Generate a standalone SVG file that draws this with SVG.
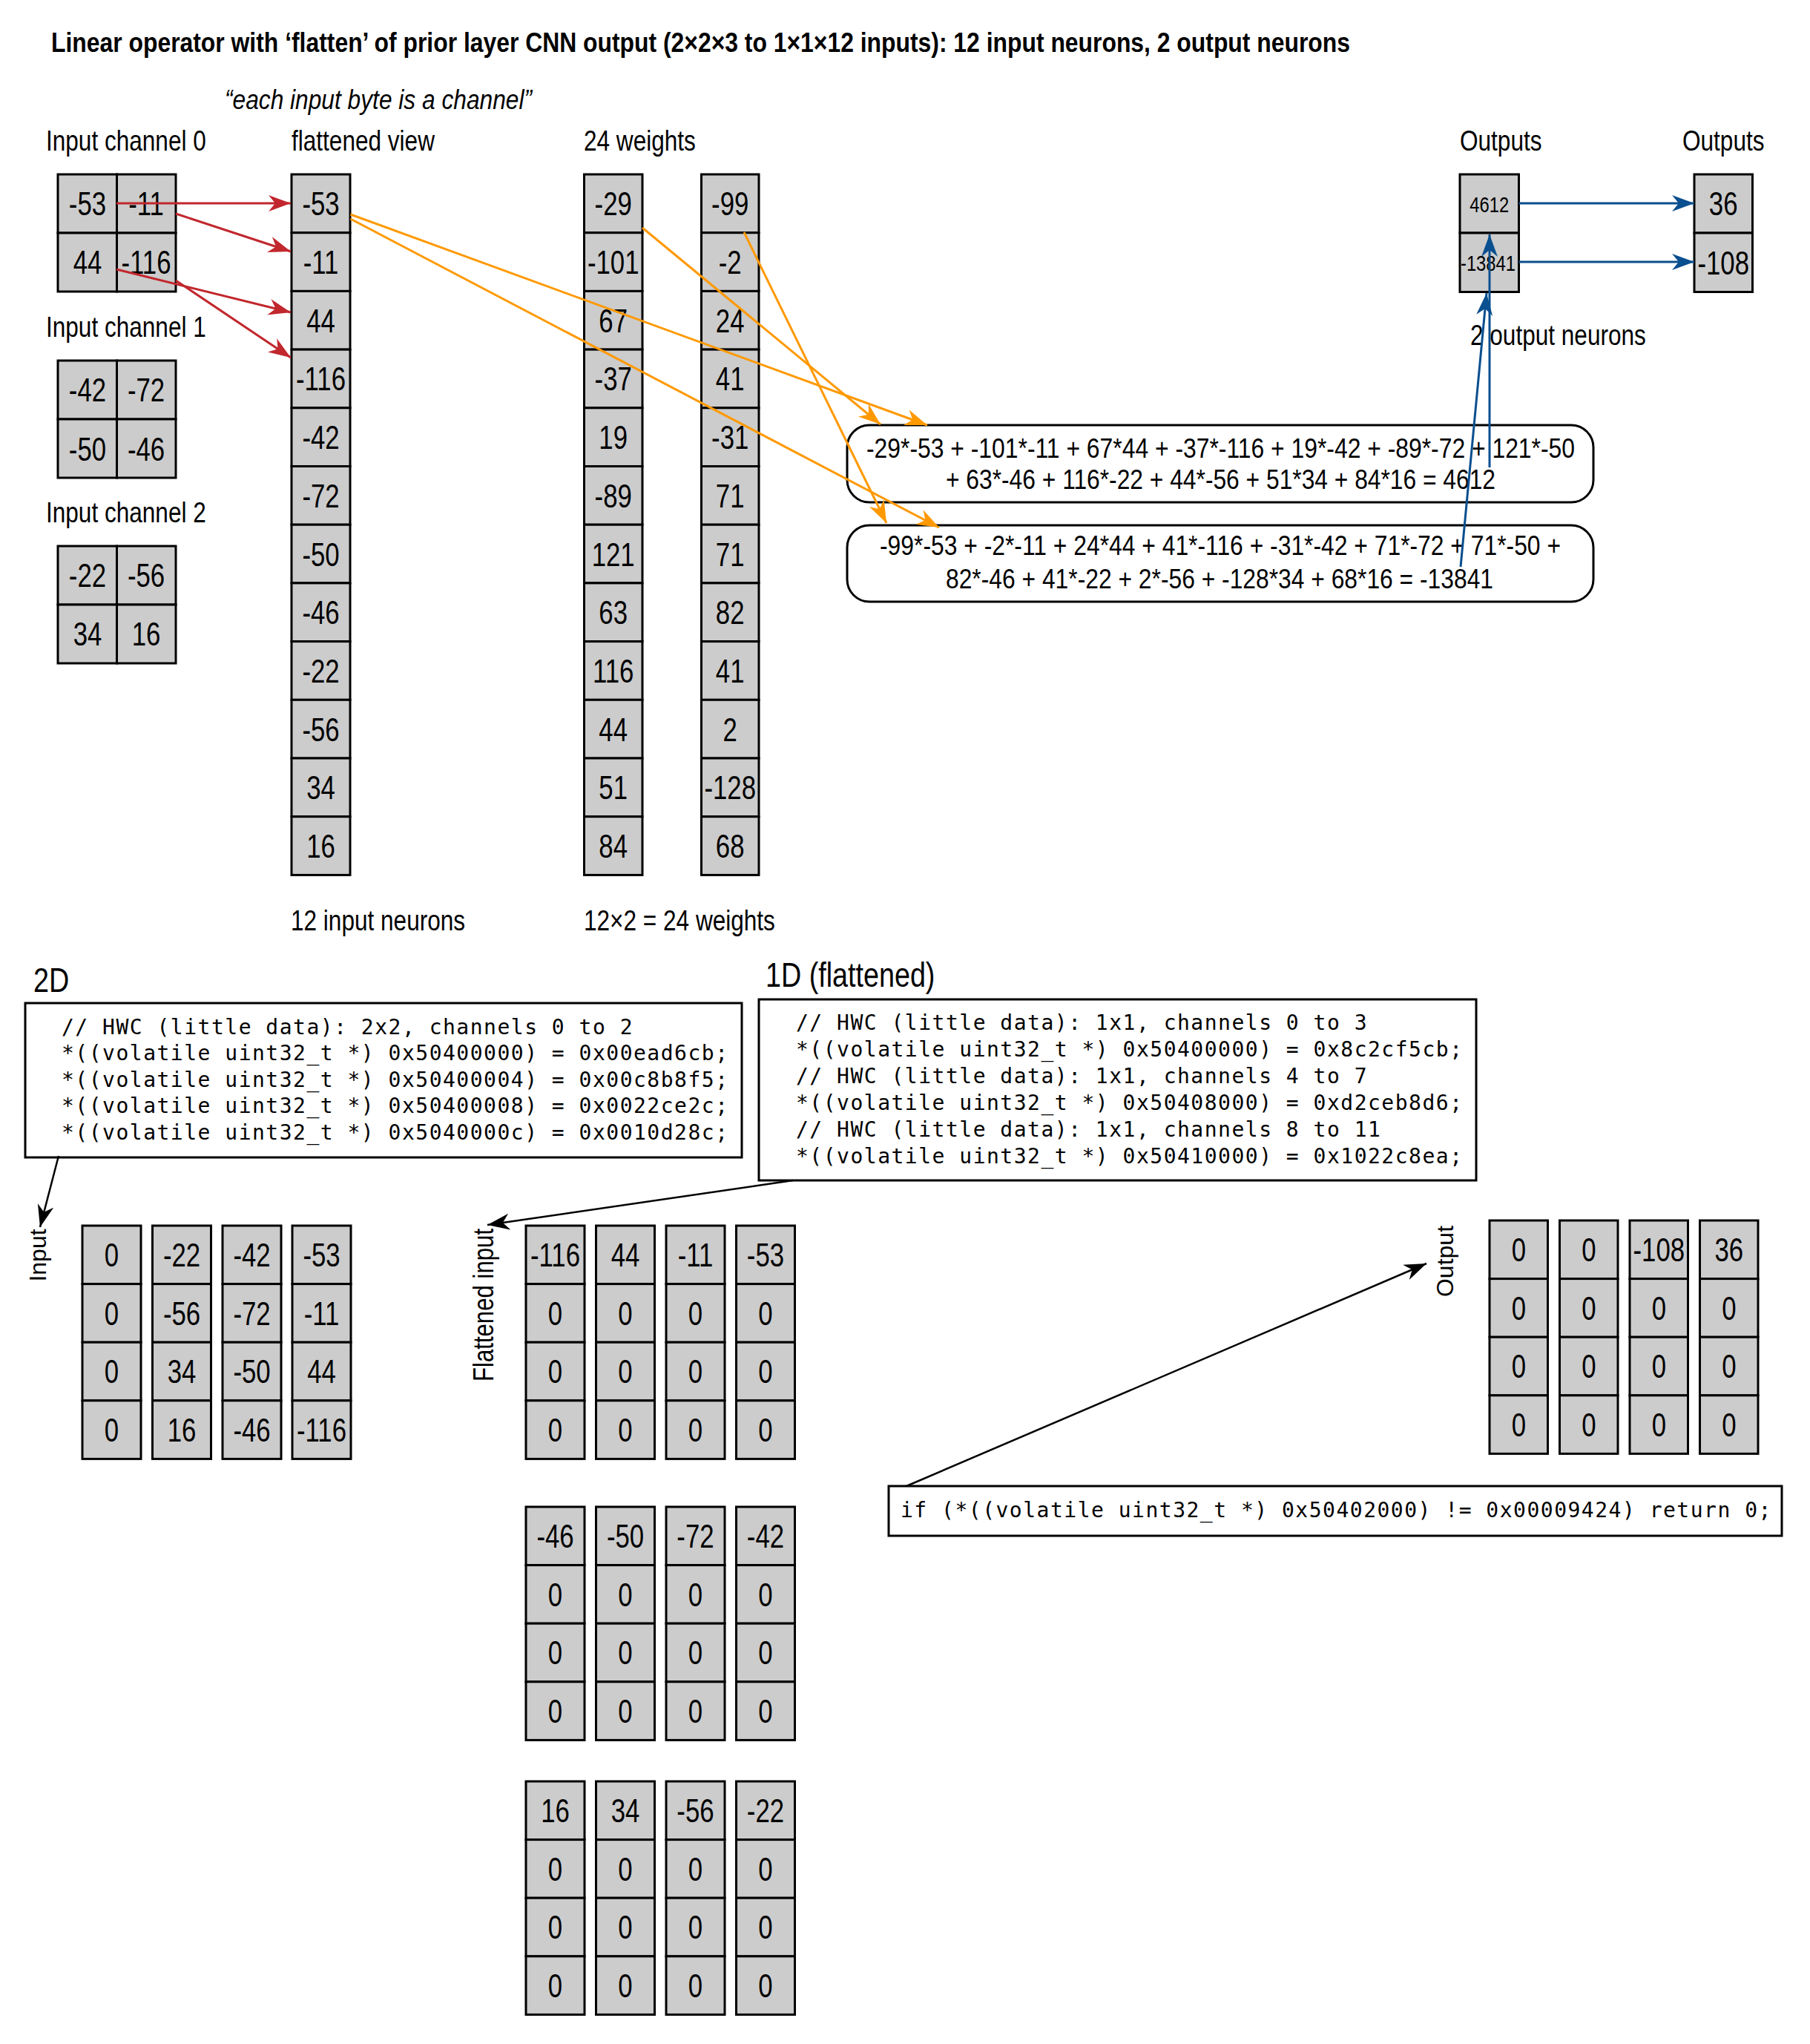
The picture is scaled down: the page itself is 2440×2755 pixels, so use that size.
<svg xmlns="http://www.w3.org/2000/svg" width="2440" height="2755" viewBox="0 0 2440 2755">
<style>
.cell{fill:#cccccc;stroke:#000;stroke-width:3}
.box{fill:#fff;stroke:#000;stroke-width:3}
.n{font-family:"Liberation Sans Narrow","Arial Narrow","Liberation Sans",sans-serif;font-size:44px;text-anchor:middle;fill:#000;transform-box:fill-box;transform-origin:50% 50%;transform:scaleX(0.79)}
.s{font-family:"Liberation Sans Narrow","Arial Narrow","Liberation Sans",sans-serif;font-size:29px;text-anchor:middle;fill:#000;transform-box:fill-box;transform-origin:50% 50%;transform:scaleX(0.82)}
.l{font-family:"Liberation Sans Narrow","Arial Narrow","Liberation Sans",sans-serif;font-size:38.5px;fill:#000;transform-box:fill-box;transform-origin:0% 50%;transform:scaleX(0.82)}
.t{font-family:"Liberation Sans","Arial",sans-serif;fill:#000}
.eq{font-family:"Liberation Sans","Arial",sans-serif;font-size:36px;text-anchor:middle;fill:#000}
.rot{font-family:"Liberation Sans","Arial",sans-serif;font-size:32px;text-anchor:middle;fill:#000}
.code{font-family:"DejaVu Sans Mono","Liberation Mono",monospace;font-size:28px;letter-spacing:1.5px;fill:#000}
.red{stroke:#C1272D;stroke-width:3;fill:none;marker-end:url(#mr)}
.org{stroke:#FF9900;stroke-width:3;fill:none;marker-end:url(#mo)}
.blu{stroke:#0A4F8F;stroke-width:3;fill:none;marker-end:url(#mb)}
.blk{stroke:#000;stroke-width:2.5;fill:none;marker-end:url(#mk)}
</style>
<defs>
<marker id="mr" markerUnits="userSpaceOnUse" markerWidth="32" markerHeight="24" refX="30" refY="11" orient="auto"><path d="M0,0 L30,11 L0,22 L9,11 Z" fill="#C1272D"/></marker>
<marker id="mo" markerUnits="userSpaceOnUse" markerWidth="32" markerHeight="24" refX="30" refY="11" orient="auto"><path d="M0,0 L30,11 L0,22 L9,11 Z" fill="#FF9900"/></marker>
<marker id="mb" markerUnits="userSpaceOnUse" markerWidth="32" markerHeight="24" refX="30" refY="11" orient="auto"><path d="M0,0 L30,11 L0,22 L9,11 Z" fill="#0A4F8F"/></marker>
<marker id="mk" markerUnits="userSpaceOnUse" markerWidth="32" markerHeight="24" refX="30" refY="11" orient="auto"><path d="M0,0 L30,11 L0,22 L9,11 Z" fill="#000"/></marker>
</defs>
<rect width="2440" height="2755" fill="#fff"/>

<g id="title"><text class="t" x="69" y="70" font-weight="bold" font-size="37" textLength="1751" lengthAdjust="spacingAndGlyphs">Linear operator with ‘flatten’ of prior layer CNN output (2×2×3 to 1×1×12 inputs): 12 input neurons, 2 output neurons</text></g>
<g id="subtitle"><text class="t" x="303" y="147" font-size="37" font-style="italic" textLength="414" lengthAdjust="spacingAndGlyphs">“each input byte is a channel”</text></g>

<g id="labels">
<text class="l" x="62" y="203">Input channel 0</text>
<text class="l" x="393" y="203">flattened view</text>
<text class="l" x="787" y="203">24 weights</text>
<text class="l" x="1968" y="203">Outputs</text>
<text class="l" x="2268" y="203">Outputs</text>
<text class="l" x="62" y="454">Input channel 1</text>
<text class="l" x="62" y="704">Input channel 2</text>
<text class="l" x="1982" y="465">2 output neurons</text>
<text class="l" x="392" y="1254">12 input neurons</text>
<text class="l" x="787" y="1254">12×2 = 24 weights</text>
<text class="l" x="45" y="1337" style="font-size:46px">2D</text>
<text class="l" x="1032" y="1330" style="font-size:46px">1D (flattened)</text>
</g>

<g id="input-channel-0">
<rect class="cell" x="78" y="235" width="79.5" height="79"/><rect class="cell" x="157.5" y="235" width="79.5" height="79"/>
<rect class="cell" x="78" y="314" width="79.5" height="79"/><rect class="cell" x="157.5" y="314" width="79.5" height="79"/>
<text class="n" x="118" y="290.5">-53</text><text class="n" x="197" y="290.5">-11</text>
<text class="n" x="118" y="369.5">44</text><text class="n" x="197" y="369.5">-116</text>
</g>
<g id="input-channel-1">
<rect class="cell" x="78" y="486" width="79.5" height="79"/><rect class="cell" x="157.5" y="486" width="79.5" height="79"/>
<rect class="cell" x="78" y="565" width="79.5" height="79"/><rect class="cell" x="157.5" y="565" width="79.5" height="79"/>
<text class="n" x="118" y="541.5">-42</text><text class="n" x="197" y="541.5">-72</text>
<text class="n" x="118" y="620.5">-50</text><text class="n" x="197" y="620.5">-46</text>
</g>
<g id="input-channel-2">
<rect class="cell" x="78" y="736" width="79.5" height="79"/><rect class="cell" x="157.5" y="736" width="79.5" height="79"/>
<rect class="cell" x="78" y="815" width="79.5" height="79"/><rect class="cell" x="157.5" y="815" width="79.5" height="79"/>
<text class="n" x="118" y="791.5">-22</text><text class="n" x="197" y="791.5">-56</text>
<text class="n" x="118" y="870.5">34</text><text class="n" x="197" y="870.5">16</text>
</g>

<g id="flattened-view">
<rect class="cell" x="393" y="235" width="79" height="78.7"/><rect class="cell" x="393" y="313.7" width="79" height="78.7"/><rect class="cell" x="393" y="392.4" width="79" height="78.7"/><rect class="cell" x="393" y="471.1" width="79" height="78.7"/><rect class="cell" x="393" y="549.8" width="79" height="78.7"/><rect class="cell" x="393" y="628.5" width="79" height="78.7"/><rect class="cell" x="393" y="707.2" width="79" height="78.7"/><rect class="cell" x="393" y="785.9" width="79" height="78.7"/><rect class="cell" x="393" y="864.6" width="79" height="78.7"/><rect class="cell" x="393" y="943.3" width="79" height="78.7"/><rect class="cell" x="393" y="1022" width="79" height="78.7"/><rect class="cell" x="393" y="1100.7" width="79" height="78.7"/>
<text class="n" x="432.5" y="290.4">-53</text><text class="n" x="432.5" y="369.1">-11</text><text class="n" x="432.5" y="447.8">44</text><text class="n" x="432.5" y="526.5">-116</text><text class="n" x="432.5" y="605.2">-42</text><text class="n" x="432.5" y="683.9">-72</text><text class="n" x="432.5" y="762.6">-50</text><text class="n" x="432.5" y="841.3">-46</text><text class="n" x="432.5" y="920">-22</text><text class="n" x="432.5" y="998.7">-56</text><text class="n" x="432.5" y="1077.4">34</text><text class="n" x="432.5" y="1156.1">16</text>
</g>

<g id="weights-0">
<rect class="cell" x="787.5" y="235" width="78.5" height="78.7"/><rect class="cell" x="787.5" y="313.7" width="78.5" height="78.7"/><rect class="cell" x="787.5" y="392.4" width="78.5" height="78.7"/><rect class="cell" x="787.5" y="471.1" width="78.5" height="78.7"/><rect class="cell" x="787.5" y="549.8" width="78.5" height="78.7"/><rect class="cell" x="787.5" y="628.5" width="78.5" height="78.7"/><rect class="cell" x="787.5" y="707.2" width="78.5" height="78.7"/><rect class="cell" x="787.5" y="785.9" width="78.5" height="78.7"/><rect class="cell" x="787.5" y="864.6" width="78.5" height="78.7"/><rect class="cell" x="787.5" y="943.3" width="78.5" height="78.7"/><rect class="cell" x="787.5" y="1022" width="78.5" height="78.7"/><rect class="cell" x="787.5" y="1100.7" width="78.5" height="78.7"/>
<text class="n" x="826.7" y="290.4">-29</text><text class="n" x="826.7" y="369.1">-101</text><text class="n" x="826.7" y="447.8">67</text><text class="n" x="826.7" y="526.5">-37</text><text class="n" x="826.7" y="605.2">19</text><text class="n" x="826.7" y="683.9">-89</text><text class="n" x="826.7" y="762.6">121</text><text class="n" x="826.7" y="841.3">63</text><text class="n" x="826.7" y="920">116</text><text class="n" x="826.7" y="998.7">44</text><text class="n" x="826.7" y="1077.4">51</text><text class="n" x="826.7" y="1156.1">84</text>
</g>

<g id="weights-1">
<rect class="cell" x="945.5" y="235" width="77.5" height="78.7"/><rect class="cell" x="945.5" y="313.7" width="77.5" height="78.7"/><rect class="cell" x="945.5" y="392.4" width="77.5" height="78.7"/><rect class="cell" x="945.5" y="471.1" width="77.5" height="78.7"/><rect class="cell" x="945.5" y="549.8" width="77.5" height="78.7"/><rect class="cell" x="945.5" y="628.5" width="77.5" height="78.7"/><rect class="cell" x="945.5" y="707.2" width="77.5" height="78.7"/><rect class="cell" x="945.5" y="785.9" width="77.5" height="78.7"/><rect class="cell" x="945.5" y="864.6" width="77.5" height="78.7"/><rect class="cell" x="945.5" y="943.3" width="77.5" height="78.7"/><rect class="cell" x="945.5" y="1022" width="77.5" height="78.7"/><rect class="cell" x="945.5" y="1100.7" width="77.5" height="78.7"/>
<text class="n" x="984.2" y="290.4">-99</text><text class="n" x="984.2" y="369.1">-2</text><text class="n" x="984.2" y="447.8">24</text><text class="n" x="984.2" y="526.5">41</text><text class="n" x="984.2" y="605.2">-31</text><text class="n" x="984.2" y="683.9">71</text><text class="n" x="984.2" y="762.6">71</text><text class="n" x="984.2" y="841.3">82</text><text class="n" x="984.2" y="920">41</text><text class="n" x="984.2" y="998.7">2</text><text class="n" x="984.2" y="1077.4">-128</text><text class="n" x="984.2" y="1156.1">68</text>
</g>

<g id="raw-outputs">
<rect class="cell" x="1968" y="235" width="79.5" height="79"/><rect class="cell" x="1968" y="314" width="79.5" height="79.5"/>
<text class="s" x="2007.7" y="286.5">4612</text><text class="s" x="2006" y="365">-13841</text>
</g>
<g id="outputs">
<rect class="cell" x="2284" y="235" width="78.5" height="79"/><rect class="cell" x="2284" y="314" width="78.5" height="79.5"/>
<text class="n" x="2323.2" y="290.5">36</text><text class="n" x="2323.2" y="370">-108</text>
</g>

<g id="equation-0">
<rect class="box" x="1142" y="573" width="1006" height="104" rx="30" ry="30"/>
<text class="eq" x="1645.5" y="616.5" textLength="955" lengthAdjust="spacingAndGlyphs">-29*-53 + -101*-11 + 67*44 + -37*-116 + 19*-42 + -89*-72 + 121*-50</text>
<text class="eq" x="1645.5" y="659" textLength="741" lengthAdjust="spacingAndGlyphs">+ 63*-46 + 116*-22 + 44*-56 + 51*34 + 84*16 = 4612</text>
</g>
<g id="equation-1">
<rect class="box" x="1142" y="708" width="1006" height="103" rx="30" ry="30"/>
<text class="eq" x="1645" y="748" textLength="918" lengthAdjust="spacingAndGlyphs">-99*-53 + -2*-11 + 24*44 + 41*-116 + -31*-42 + 71*-72 + 71*-50 +</text>
<text class="eq" x="1644" y="793" textLength="738" lengthAdjust="spacingAndGlyphs">82*-46 + 41*-22 + 2*-56 + -128*34 + 68*16 = -13841</text>
</g>

<g id="code-2d">
<rect class="box" x="34" y="1352" width="966" height="208"/>
<text class="code" x="83" y="1394">// HWC (little data): 2x2, channels 0 to 2</text>
<text class="code" x="83" y="1429">*((volatile uint32_t *) 0x50400000) = 0x00ead6cb;</text>
<text class="code" x="83" y="1465">*((volatile uint32_t *) 0x50400004) = 0x00c8b8f5;</text>
<text class="code" x="83" y="1500">*((volatile uint32_t *) 0x50400008) = 0x0022ce2c;</text>
<text class="code" x="83" y="1536">*((volatile uint32_t *) 0x5040000c) = 0x0010d28c;</text>
</g>
<g id="code-1d">
<rect class="box" x="1023" y="1347" width="967" height="244"/>
<text class="code" x="1073" y="1388">// HWC (little data): 1x1, channels 0 to 3</text>
<text class="code" x="1073" y="1424">*((volatile uint32_t *) 0x50400000) = 0x8c2cf5cb;</text>
<text class="code" x="1073" y="1460">// HWC (little data): 1x1, channels 4 to 7</text>
<text class="code" x="1073" y="1496">*((volatile uint32_t *) 0x50408000) = 0xd2ceb8d6;</text>
<text class="code" x="1073" y="1532">// HWC (little data): 1x1, channels 8 to 11</text>
<text class="code" x="1073" y="1568">*((volatile uint32_t *) 0x50410000) = 0x1022c8ea;</text>
</g>
<g id="code-check">
<rect class="box" x="1198" y="2003" width="1204" height="67"/>
<text class="code" x="1214" y="2045">if (*((volatile uint32_t *) 0x50402000) != 0x00009424) return 0;</text>
</g>

<g id="input-label"><text class="rot" transform="translate(62,1692) rotate(-90)">Input</text></g>
<g id="flattened-input-label"><text class="t" text-anchor="middle" font-size="38" transform="translate(665,1759) rotate(-90) scale(0.82,1)">Flattened input</text></g>
<g id="output-label"><text class="rot" transform="translate(1959,1700) rotate(-90)">Output</text></g>

<g id="input-2d">
<rect class="cell" x="111" y="1652" width="79" height="78.6"/><rect class="cell" x="111" y="1730.6" width="79" height="78.6"/><rect class="cell" x="111" y="1809.2" width="79" height="78.6"/><rect class="cell" x="111" y="1887.8" width="79" height="78.6"/>
<rect class="cell" x="205.5" y="1652" width="79" height="78.6"/><rect class="cell" x="205.5" y="1730.6" width="79" height="78.6"/><rect class="cell" x="205.5" y="1809.2" width="79" height="78.6"/><rect class="cell" x="205.5" y="1887.8" width="79" height="78.6"/>
<rect class="cell" x="300" y="1652" width="79" height="78.6"/><rect class="cell" x="300" y="1730.6" width="79" height="78.6"/><rect class="cell" x="300" y="1809.2" width="79" height="78.6"/><rect class="cell" x="300" y="1887.8" width="79" height="78.6"/>
<rect class="cell" x="394" y="1652" width="79" height="78.6"/><rect class="cell" x="394" y="1730.6" width="79" height="78.6"/><rect class="cell" x="394" y="1809.2" width="79" height="78.6"/><rect class="cell" x="394" y="1887.8" width="79" height="78.6"/>
<text class="n" x="150.5" y="1707.3">0</text><text class="n" x="150.5" y="1785.9">0</text><text class="n" x="150.5" y="1864.5">0</text><text class="n" x="150.5" y="1943.1">0</text>
<text class="n" x="245" y="1707.3">-22</text><text class="n" x="245" y="1785.9">-56</text><text class="n" x="245" y="1864.5">34</text><text class="n" x="245" y="1943.1">16</text>
<text class="n" x="339.5" y="1707.3">-42</text><text class="n" x="339.5" y="1785.9">-72</text><text class="n" x="339.5" y="1864.5">-50</text><text class="n" x="339.5" y="1943.1">-46</text>
<text class="n" x="433.5" y="1707.3">-53</text><text class="n" x="433.5" y="1785.9">-11</text><text class="n" x="433.5" y="1864.5">44</text><text class="n" x="433.5" y="1943.1">-116</text>
</g>

<g id="flattened-input-0">
<rect class="cell" x="709" y="1652" width="79" height="78.6"/><rect class="cell" x="709" y="1730.6" width="79" height="78.6"/><rect class="cell" x="709" y="1809.2" width="79" height="78.6"/><rect class="cell" x="709" y="1887.8" width="79" height="78.6"/>
<rect class="cell" x="803.5" y="1652" width="79" height="78.6"/><rect class="cell" x="803.5" y="1730.6" width="79" height="78.6"/><rect class="cell" x="803.5" y="1809.2" width="79" height="78.6"/><rect class="cell" x="803.5" y="1887.8" width="79" height="78.6"/>
<rect class="cell" x="898" y="1652" width="79" height="78.6"/><rect class="cell" x="898" y="1730.6" width="79" height="78.6"/><rect class="cell" x="898" y="1809.2" width="79" height="78.6"/><rect class="cell" x="898" y="1887.8" width="79" height="78.6"/>
<rect class="cell" x="992.5" y="1652" width="79" height="78.6"/><rect class="cell" x="992.5" y="1730.6" width="79" height="78.6"/><rect class="cell" x="992.5" y="1809.2" width="79" height="78.6"/><rect class="cell" x="992.5" y="1887.8" width="79" height="78.6"/>
<text class="n" x="748.5" y="1707.3">-116</text><text class="n" x="748.5" y="1785.9">0</text><text class="n" x="748.5" y="1864.5">0</text><text class="n" x="748.5" y="1943.1">0</text>
<text class="n" x="843" y="1707.3">44</text><text class="n" x="843" y="1785.9">0</text><text class="n" x="843" y="1864.5">0</text><text class="n" x="843" y="1943.1">0</text>
<text class="n" x="937.5" y="1707.3">-11</text><text class="n" x="937.5" y="1785.9">0</text><text class="n" x="937.5" y="1864.5">0</text><text class="n" x="937.5" y="1943.1">0</text>
<text class="n" x="1032" y="1707.3">-53</text><text class="n" x="1032" y="1785.9">0</text><text class="n" x="1032" y="1864.5">0</text><text class="n" x="1032" y="1943.1">0</text>
</g>

<g id="flattened-input-1">
<rect class="cell" x="709" y="2031" width="79" height="78.6"/><rect class="cell" x="709" y="2109.6" width="79" height="78.6"/><rect class="cell" x="709" y="2188.2" width="79" height="78.6"/><rect class="cell" x="709" y="2266.8" width="79" height="78.6"/>
<rect class="cell" x="803.5" y="2031" width="79" height="78.6"/><rect class="cell" x="803.5" y="2109.6" width="79" height="78.6"/><rect class="cell" x="803.5" y="2188.2" width="79" height="78.6"/><rect class="cell" x="803.5" y="2266.8" width="79" height="78.6"/>
<rect class="cell" x="898" y="2031" width="79" height="78.6"/><rect class="cell" x="898" y="2109.6" width="79" height="78.6"/><rect class="cell" x="898" y="2188.2" width="79" height="78.6"/><rect class="cell" x="898" y="2266.8" width="79" height="78.6"/>
<rect class="cell" x="992.5" y="2031" width="79" height="78.6"/><rect class="cell" x="992.5" y="2109.6" width="79" height="78.6"/><rect class="cell" x="992.5" y="2188.2" width="79" height="78.6"/><rect class="cell" x="992.5" y="2266.8" width="79" height="78.6"/>
<text class="n" x="748.5" y="2086.3">-46</text><text class="n" x="748.5" y="2164.9">0</text><text class="n" x="748.5" y="2243.5">0</text><text class="n" x="748.5" y="2322.1">0</text>
<text class="n" x="843" y="2086.3">-50</text><text class="n" x="843" y="2164.9">0</text><text class="n" x="843" y="2243.5">0</text><text class="n" x="843" y="2322.1">0</text>
<text class="n" x="937.5" y="2086.3">-72</text><text class="n" x="937.5" y="2164.9">0</text><text class="n" x="937.5" y="2243.5">0</text><text class="n" x="937.5" y="2322.1">0</text>
<text class="n" x="1032" y="2086.3">-42</text><text class="n" x="1032" y="2164.9">0</text><text class="n" x="1032" y="2243.5">0</text><text class="n" x="1032" y="2322.1">0</text>
</g>

<g id="flattened-input-2">
<rect class="cell" x="709" y="2401" width="79" height="78.6"/><rect class="cell" x="709" y="2479.6" width="79" height="78.6"/><rect class="cell" x="709" y="2558.2" width="79" height="78.6"/><rect class="cell" x="709" y="2636.8" width="79" height="78.6"/>
<rect class="cell" x="803.5" y="2401" width="79" height="78.6"/><rect class="cell" x="803.5" y="2479.6" width="79" height="78.6"/><rect class="cell" x="803.5" y="2558.2" width="79" height="78.6"/><rect class="cell" x="803.5" y="2636.8" width="79" height="78.6"/>
<rect class="cell" x="898" y="2401" width="79" height="78.6"/><rect class="cell" x="898" y="2479.6" width="79" height="78.6"/><rect class="cell" x="898" y="2558.2" width="79" height="78.6"/><rect class="cell" x="898" y="2636.8" width="79" height="78.6"/>
<rect class="cell" x="992.5" y="2401" width="79" height="78.6"/><rect class="cell" x="992.5" y="2479.6" width="79" height="78.6"/><rect class="cell" x="992.5" y="2558.2" width="79" height="78.6"/><rect class="cell" x="992.5" y="2636.8" width="79" height="78.6"/>
<text class="n" x="748.5" y="2456.3">16</text><text class="n" x="748.5" y="2534.9">0</text><text class="n" x="748.5" y="2613.5">0</text><text class="n" x="748.5" y="2692.1">0</text>
<text class="n" x="843" y="2456.3">34</text><text class="n" x="843" y="2534.9">0</text><text class="n" x="843" y="2613.5">0</text><text class="n" x="843" y="2692.1">0</text>
<text class="n" x="937.5" y="2456.3">-56</text><text class="n" x="937.5" y="2534.9">0</text><text class="n" x="937.5" y="2613.5">0</text><text class="n" x="937.5" y="2692.1">0</text>
<text class="n" x="1032" y="2456.3">-22</text><text class="n" x="1032" y="2534.9">0</text><text class="n" x="1032" y="2613.5">0</text><text class="n" x="1032" y="2692.1">0</text>
</g>

<g id="output-grid">
<rect class="cell" x="2008" y="1645" width="78.5" height="78.6"/><rect class="cell" x="2008" y="1723.6" width="78.5" height="78.6"/><rect class="cell" x="2008" y="1802.2" width="78.5" height="78.6"/><rect class="cell" x="2008" y="1880.8" width="78.5" height="78.6"/>
<rect class="cell" x="2102.5" y="1645" width="78.5" height="78.6"/><rect class="cell" x="2102.5" y="1723.6" width="78.5" height="78.6"/><rect class="cell" x="2102.5" y="1802.2" width="78.5" height="78.6"/><rect class="cell" x="2102.5" y="1880.8" width="78.5" height="78.6"/>
<rect class="cell" x="2197" y="1645" width="78.5" height="78.6"/><rect class="cell" x="2197" y="1723.6" width="78.5" height="78.6"/><rect class="cell" x="2197" y="1802.2" width="78.5" height="78.6"/><rect class="cell" x="2197" y="1880.8" width="78.5" height="78.6"/>
<rect class="cell" x="2291.5" y="1645" width="78.5" height="78.6"/><rect class="cell" x="2291.5" y="1723.6" width="78.5" height="78.6"/><rect class="cell" x="2291.5" y="1802.2" width="78.5" height="78.6"/><rect class="cell" x="2291.5" y="1880.8" width="78.5" height="78.6"/>
<text class="n" x="2047.3" y="1700.3">0</text><text class="n" x="2047.3" y="1778.9">0</text><text class="n" x="2047.3" y="1857.5">0</text><text class="n" x="2047.3" y="1936.1">0</text>
<text class="n" x="2141.8" y="1700.3">0</text><text class="n" x="2141.8" y="1778.9">0</text><text class="n" x="2141.8" y="1857.5">0</text><text class="n" x="2141.8" y="1936.1">0</text>
<text class="n" x="2236.3" y="1700.3">-108</text><text class="n" x="2236.3" y="1778.9">0</text><text class="n" x="2236.3" y="1857.5">0</text><text class="n" x="2236.3" y="1936.1">0</text>
<text class="n" x="2330.8" y="1700.3">36</text><text class="n" x="2330.8" y="1778.9">0</text><text class="n" x="2330.8" y="1857.5">0</text><text class="n" x="2330.8" y="1936.1">0</text>
</g>

<g id="connectors">
<line class="red" x1="157" y1="274" x2="392" y2="274"/>
<line class="red" x1="237" y1="288" x2="392" y2="339"/>
<line class="red" x1="157" y1="363" x2="392" y2="421"/>
<line class="red" x1="237" y1="378" x2="392" y2="482"/>
<line class="org" x1="472.5" y1="289" x2="1250" y2="573"/>
<line class="org" x1="472.5" y1="295" x2="1266" y2="711"/>
<line class="org" x1="866" y1="307" x2="1187" y2="572"/>
<line class="org" x1="1003" y1="313" x2="1195" y2="705"/>
<line class="blu" x1="2047.5" y1="274" x2="2284" y2="274"/>
<line class="blu" x1="2047.5" y1="353" x2="2284" y2="353"/>
<line class="blu" x1="2008" y1="630" x2="2008" y2="316"/>
<line class="blu" x1="1969" y1="764" x2="2004" y2="395"/>
<line class="blk" x1="79" y1="1558" x2="54" y2="1654"/>
<line class="blk" x1="1069" y1="1591" x2="657" y2="1651"/>
<line class="blk" x1="1222" y1="2003" x2="1923" y2="1703"/>
</g>
</svg>
